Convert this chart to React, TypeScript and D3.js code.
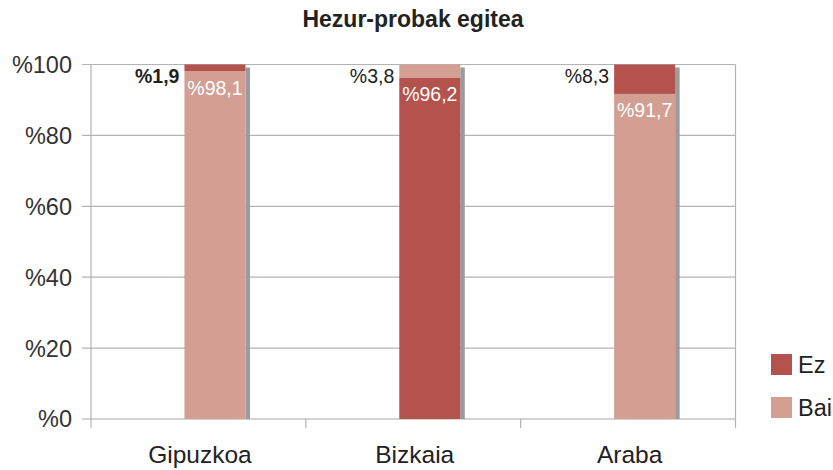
import React from "react";
import * as d3 from "d3";

const title = "Hezur-probak egitea";
const categories = ["Gipuzkoa", "Bizkaia", "Araba"];
const baiValues = [98.1, 96.2, 91.7];
const ezValues = [1.9, 3.8, 8.3];
const yTicks = [0, 20, 40, 60, 80, 100];
const seriesNames = ["Ez", "Bai"];
// categories where the source chart paints the lower segment dark and the upper light
const swappedCategories = ["Bizkaia"];

const W = 833;
const H = 470;
const M = { left: 91, right: 735.5, top: 64.5, bottom: 419 };
const DARK = "#b4534d";
const LIGHT = "#d39f92";
const SHADOW = "#9a9b9f";
const GRID = "#b3b3b3";
const FONT = "'Liberation Sans', Arial, Helvetica, sans-serif";

const fmt = (v: number) => "%" + v.toFixed(1).replace(".", ",");

export default function App() {
  const x = d3.scaleBand<string>().domain(categories).range([M.left, M.right]).padding(0);
  const y = d3.scaleLinear().domain([0, 100]).range([M.bottom, M.top]);
  const bw = x.bandwidth();
  const barOff = bw * 0.435;
  const barW = bw * 0.284;

  return (
    <svg width={W} height={H} style={{ position: "absolute", left: 0, top: 0 }} fontFamily={FONT}>
      <rect width={W} height={H} fill="#fff" />
      <text x={413} y={27} textAnchor="middle" fontWeight="bold" fontSize={23} fill="#222">
        {title}
      </text>
      {/* gridlines */}
      {yTicks.map((t) => (
        <g key={t}>
          <line x1={M.left - 9} x2={M.right} y1={y(t)} y2={y(t)} stroke={t === 0 ? "#a8a8a8" : GRID} strokeWidth={1.2} />
          <text x={72} y={y(t)} dy="0.36em" textAnchor="end" fontSize={23.5} fill="#333">
            {"%" + t}
          </text>
        </g>
      ))}
      <line x1={M.left} x2={M.left} y1={M.top} y2={M.bottom + 9} stroke={GRID} strokeWidth={1.2} />
      <line x1={M.right} x2={M.right} y1={M.top} y2={M.bottom + 9} stroke={GRID} strokeWidth={1.2} />
      {categories.slice(1).map((c) => (
        <line key={c} x1={x(c)!} x2={x(c)!} y1={M.bottom} y2={M.bottom + 9} stroke={GRID} strokeWidth={1.2} />
      ))}
      {/* bars */}
      {categories.map((c, i) => {
        const x0 = x(c)! + barOff;
        const swapped = swappedCategories.includes(c);
        const lowColor = swapped ? DARK : LIGHT;
        const upColor = swapped ? LIGHT : DARK;
        const lowTop = y(baiValues[i]);
        const upTop = y(baiValues[i] + ezValues[i]);
        return (
          <g key={c}>
            <rect x={x0 + barW} y={upTop + 3} width={4.5} height={M.bottom - upTop - 3} fill={SHADOW} />
            <rect x={x0} y={lowTop} width={barW} height={M.bottom - lowTop} fill={lowColor} />
            <rect x={x0} y={upTop} width={barW} height={lowTop - upTop} fill={upColor} />
            <text x={x0 + barW / 2} y={lowTop + 23.5} textAnchor="middle" fontSize={19.5} fill="#fff">
              {fmt(baiValues[i])}
            </text>
            <text
              x={x0 - 5}
              y={83}
              textAnchor="end"
              fontSize={19.5}
              fontWeight={i === 0 ? "bold" : "normal"}
              fill="#222"
            >
              {fmt(ezValues[i])}
            </text>
            <text x={x(c)! + bw / 2 + 1.5} y={463} textAnchor="middle" fontSize={24.5} fill="#222">
              {c}
            </text>
          </g>
        );
      })}
      {/* legend */}
      {seriesNames.map((s, i) => (
        <g key={s} transform={`translate(771, ${354 + i * 43})`}>
          <rect width={21} height={21} fill={i === 0 ? DARK : LIGHT} />
          <text x={27} y={18.5} fontSize={23.5} fill="#222">
            {s}
          </text>
        </g>
      ))}
    </svg>
  );
}
